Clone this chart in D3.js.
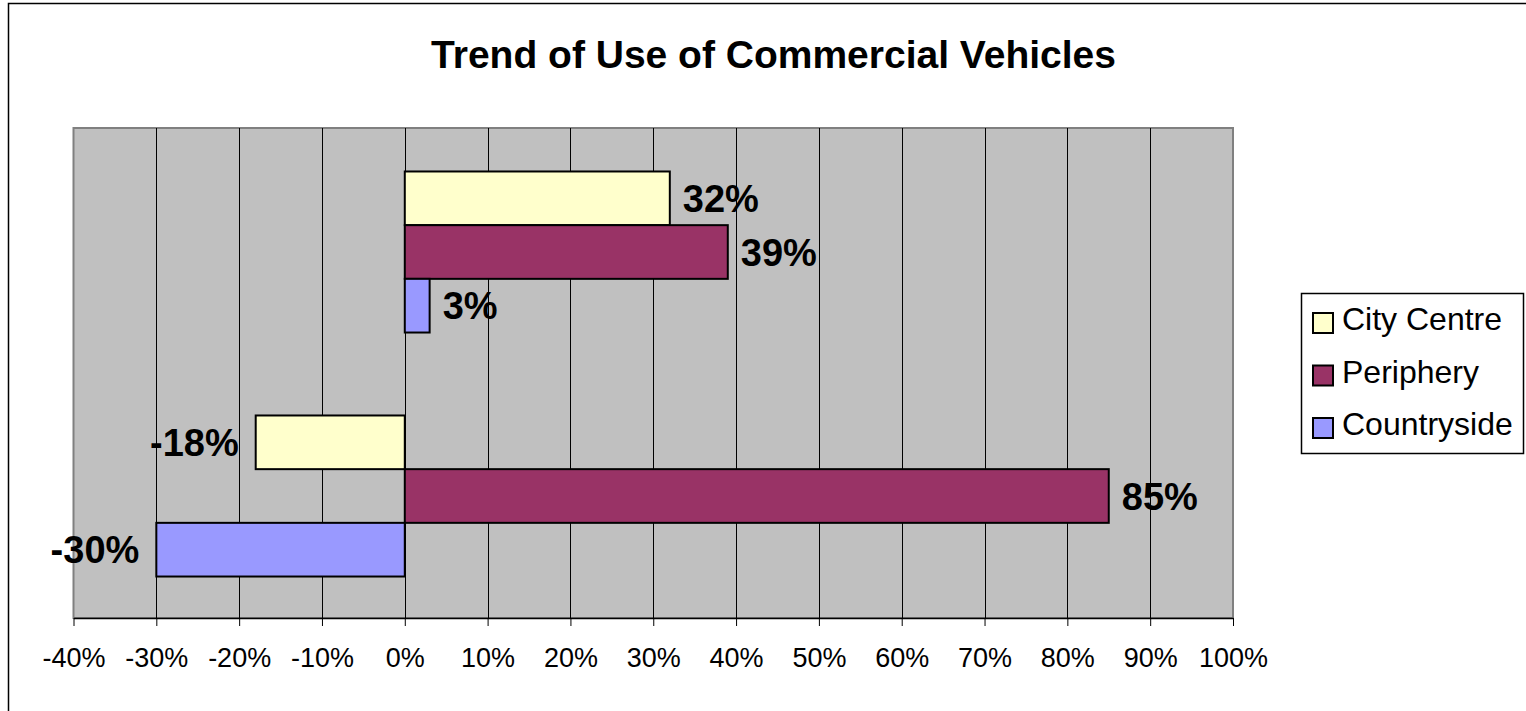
<!DOCTYPE html>
<html>
<head>
<meta charset="utf-8">
<script src="https://cdn.jsdelivr.net/npm/d3@7"></script>
<style>
    body { margin: 0; background: #fff; }
    svg { display: block; font-family: "Liberation Sans", Arial, sans-serif; }
</style>
</head>
<body>
<svg id="chart"></svg>
<script>
// data
const categories = ['Category 1', 'Category 2'];
const seriesNames = ['City Centre', 'Periphery', 'Countryside'];
const cityCentre = [32, -18];
const periphery = [39, 85];
const countryside = [3, -30];
const tickValues = [-40, -30, -20, -10, 0, 10, 20, 30, 40, 50, 60, 70, 80, 90, 100];
const seriesColors = ['#ffffcc', '#993366', '#9999ff'];

function drawChart() {
    var svg = d3.select('#chart');

    const width = 1526;
    const height = 711;
    svg.attr('width', width);
    svg.attr('height', height);

    // plot area (gray box)
    const plot = { left: 73.5, right: 1233, top: 128, bottom: 618 };

    const values = [cityCentre, periphery, countryside];

    // outer chart border
    svg.append('rect')
        .attr('x', 8.5)
        .attr('y', 3.5)
        .attr('width', width + 20)
        .attr('height', height + 20)
        .attr('fill', '#fff')
        .attr('stroke', '#000')
        .attr('stroke-width', 1.5);

    svg.append('text')
        .attr('x', 773.5)
        .attr('y', 68)
        .attr('text-anchor', 'middle')
        .attr('font-size', 39)
        .attr('font-weight', 'bold')
        .text('Trend of Use of Commercial Vehicles');

    var x = d3.scaleLinear()
        .domain([-40, 100])
        .range([plot.left, plot.right]);

    var y = d3.scaleBand()
        .domain(categories)
        .range([plot.top + 2, plot.bottom])
        .paddingInner(0.34)
        .paddingOuter(0.17);

    var ySeries = d3.scaleBand()
        .domain(seriesNames)
        .range([0, y.bandwidth()]);

    svg.append('rect')
        .attr('x', plot.left)
        .attr('y', plot.top)
        .attr('width', plot.right - plot.left)
        .attr('height', plot.bottom - plot.top)
        .attr('fill', '#c0c0c0')
        .attr('stroke', '#808080')
        .attr('stroke-width', 2);

    // gridlines
    svg.append('g')
        .selectAll('line')
        .data(tickValues.slice(1, -1))
        .enter()
        .append('line')
        .attr('x1', function (d) { return Math.round(x(d)) + 0.5; })
        .attr('x2', function (d) { return Math.round(x(d)) + 0.5; })
        .attr('y1', plot.top)
        .attr('y2', plot.bottom)
        .attr('stroke', '#000')
        .attr('stroke-width', 1);

    // x axis
    var axis = svg.append('g')
        .attr('transform', 'translate(0,' + plot.bottom + ')')
        .call(d3.axisBottom(x)
            .tickValues(tickValues)
            .tickFormat(function (d) { return d + '%'; })
            .tickSize(8)
            .tickSizeOuter(0)
            .tickPadding(22));
    axis.select('.domain').attr('stroke', '#000').attr('stroke-width', 1.5);
    axis.selectAll('.tick line').attr('stroke', '#000');
    axis.selectAll('.tick text')
        .attr('fill', '#000')
        .attr('font-size', 27)
        .attr('font-family', '"Liberation Sans", Arial, sans-serif');

    // bars
    var bars = [];
    categories.forEach(function (c, i) {
        seriesNames.forEach(function (s, j) {
            bars.push({ cat: c, series: s, v: values[j][i], color: seriesColors[j] });
        });
    });

    svg.append('g')
        .selectAll('rect')
        .data(bars)
        .enter()
        .append('rect')
        .attr('x', function (d) { return x(Math.min(0, d.v)); })
        .attr('y', function (d) { return y(d.cat) + ySeries(d.series); })
        .attr('width', function (d) { return Math.abs(x(d.v) - x(0)); })
        .attr('height', ySeries.bandwidth())
        .attr('fill', function (d) { return d.color; })
        .attr('stroke', '#000')
        .attr('stroke-width', 2);

    // value labels
    svg.append('g')
        .selectAll('text')
        .data(bars)
        .enter()
        .append('text')
        .attr('x', function (d) {
            return d.v < 0 ? x(d.v) - 17 : x(d.v) + 13;
        })
        .attr('y', function (d) {
            return y(d.cat) + ySeries(d.series) + ySeries.bandwidth() / 2 + 13.5;
        })
        .attr('text-anchor', function (d) { return d.v < 0 ? 'end' : 'start'; })
        .attr('font-size', 38)
        .attr('font-weight', 'bold')
        .text(function (d) { return d.v + '%'; });

    // legend
    var legend = svg.append('g').attr('transform', 'translate(1301,293)');
    legend.append('rect')
        .attr('x', 0.5)
        .attr('y', 0.5)
        .attr('width', 222)
        .attr('height', 160)
        .attr('fill', '#fff')
        .attr('stroke', '#000')
        .attr('stroke-width', 1.5);

    var items = legend.selectAll('g.item')
        .data(seriesNames)
        .enter()
        .append('g')
        .attr('class', 'item')
        .attr('transform', function (d, i) { return 'translate(12,' + (30 + i * 52.5) + ')'; });

    items.append('rect')
        .attr('x', 0)
        .attr('y', -10)
        .attr('width', 20)
        .attr('height', 20)
        .attr('fill', function (d, i) { return seriesColors[i]; })
        .attr('stroke', '#000')
        .attr('stroke-width', 2);

    items.append('text')
        .attr('x', 29)
        .attr('y', 7)
        .attr('font-size', 32)
        .text(function (d) { return d; });
}

drawChart();
</script>
</body>
</html>
